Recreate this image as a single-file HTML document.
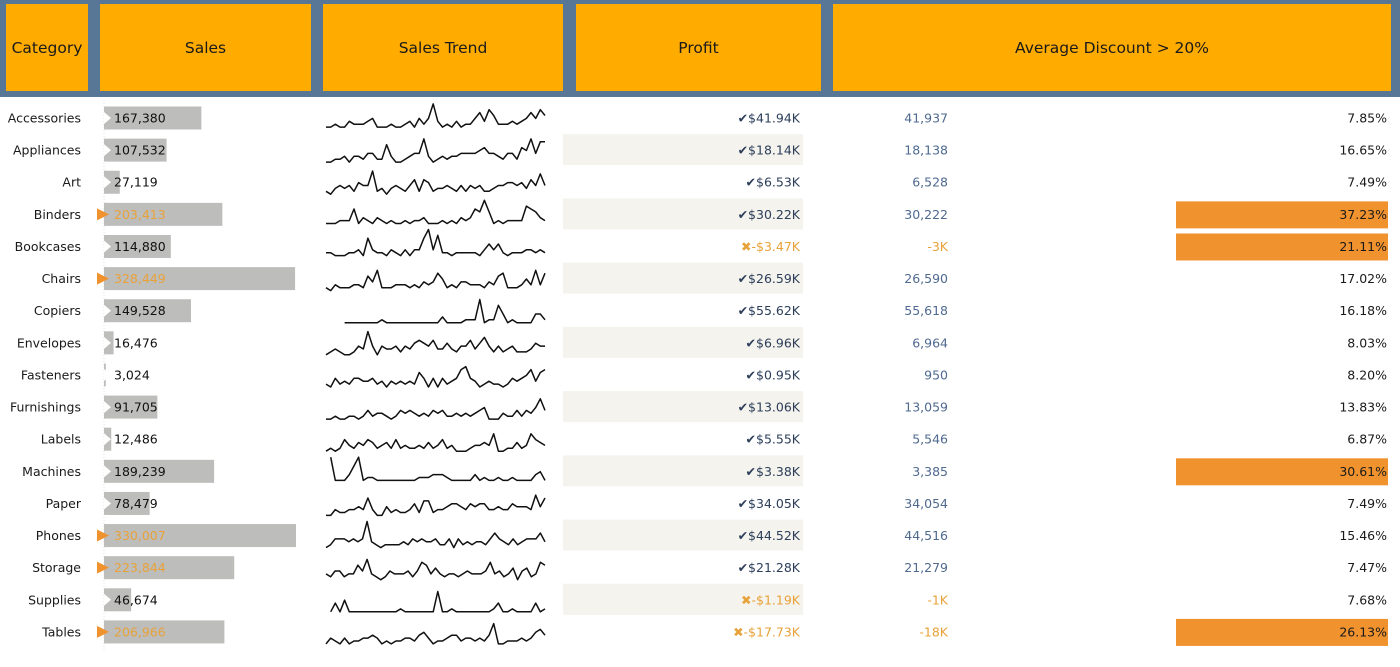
<!DOCTYPE html>
<html><head><meta charset="utf-8">
<style>
body{margin:0;width:1400px;height:667px;background:#fff;font-family:"DejaVu Sans","Liberation Sans",sans-serif;overflow:hidden;position:relative}
.hdrbg{position:absolute;left:0;top:0;width:1400px;height:97px;background:#587796}
.hdr{position:absolute;top:4px;height:87px;background:#ffab00;display:flex;align-items:center;justify-content:center;font-size:15.5px;color:#1a1a1a}
</style></head><body>
<div class="hdrbg"></div>
<div class="hdr" style="left:6px;width:82px">Category</div>
<div class="hdr" style="left:100px;width:211px">Sales</div>
<div class="hdr" style="left:323px;width:240px">Sales Trend</div>
<div class="hdr" style="left:576px;width:245px">Profit</div>
<div class="hdr" style="left:833px;width:558px">Average Discount &gt; 20%</div>
<svg id="chart" width="1400" height="667" style="position:absolute;left:0;top:0"></svg>
<script>
const categories=["Accessories","Appliances","Art","Binders","Bookcases","Chairs","Copiers","Envelopes","Fasteners","Furnishings","Labels","Machines","Paper","Phones","Storage","Supplies","Tables"];
const sales=[167380,107532,27119,203413,114880,328449,149528,16476,3024,91705,12486,189239,78479,330007,223844,46674,206966];
const profitLabels=["$41.94K","$18.14K","$6.53K","$30.22K","-$3.47K","$26.59K","$55.62K","$6.96K","$0.95K","$13.06K","$5.55K","$3.38K","$34.05K","$44.52K","$21.28K","-$1.19K","-$17.73K"];
const profit=[41937,18138,6528,30222,-3,26590,55618,6964,950,13059,5546,3385,34054,44516,21279,-1,-18];
const profitShort=["41,937","18,138","6,528","30,222","-3K","26,590","55,618","6,964","950","13,059","5,546","3,385","34,054","44,516","21,279","-1K","-18K"];
const discount=[7.85,16.65,7.49,37.23,21.11,17.02,16.18,8.03,8.20,13.83,6.87,30.61,7.49,15.46,7.47,7.68,26.13];
const trends=[
[1,1,2,1,1,3,2,2,2,3,4,1,1,1,2,1,1,2,3,1,4,2,4,9,3,1,2,1,3,1,2,2,4,6,3,7,5,2,2,2,3,2,3,4,6,4,7,5],
[0,0,1,1,2,0,2,2,1,3,3,1,1,6,2,0,0,1,2,3,3,8,2,0,1,2,1,2,2,3,3,3,3,4,5,3,3,2,1,3,3,1,5,4,8,3,7,7],
[1,0,2,3,2,3,1,4,3,3,8,1,2,0,2,3,2,1,3,5,1,5,4,1,2,2,3,2,1,3,1,3,2,3,1,1,2,3,3,4,4,3,4,2,5,3,7,3],
[1,1,1,2,2,2,6,1,3,2,1,3,2,1,2,1,1,2,1,2,2,3,1,1,1,2,1,2,1,3,2,3,6,5,9,5,1,2,1,2,2,2,2,7,6,5,3,2],
[2,2,1,1,1,2,2,3,1,7,3,2,2,1,3,2,1,3,1,3,3,7,10,3,8,2,2,1,2,2,2,2,2,1,3,5,3,5,2,1,2,2,2,3,3,2,3,2],
[1,0,2,1,1,1,2,2,1,5,3,7,1,1,1,2,2,2,1,2,1,3,2,3,6,4,1,2,1,3,3,2,2,2,1,3,2,5,6,1,1,1,2,4,2,7,2,6],
[null,null,null,null,0,0,0,0,0,0,0,0,1,0,0,0,0,0,0,0,0,0,0,0,0,2,0,0,0,0,1,1,1,8,0,1,1,6,3,0,1,0,0,0,0,3,3,1],
[0,1,2,1,0,0,1,3,2,8,3,0,3,2,2,3,1,3,2,4,5,4,3,5,2,2,4,2,1,3,3,5,2,4,6,3,1,3,1,2,3,1,1,1,2,4,3,3],
[1,0,3,1,2,1,3,3,2,2,3,1,2,0,2,1,2,1,2,1,5,3,0,3,0,3,1,2,3,6,7,3,2,0,1,2,1,1,0,1,3,2,3,4,6,2,5,6],
[0,0,1,0,0,1,1,0,1,3,1,2,2,1,0,1,3,2,3,2,1,2,1,3,2,3,1,1,2,1,2,1,2,3,4,0,0,0,2,1,1,3,1,3,2,4,7,3],
[0,1,0,1,4,2,1,3,2,4,3,1,2,3,1,4,1,2,1,1,2,1,3,1,2,4,1,2,0,0,0,1,2,2,3,2,6,0,0,1,1,3,1,2,6,4,3,2],
[null,9,1,1,1,3,6,9,1,2,2,1,1,1,1,1,1,1,1,1,2,2,2,3,3,3,2,1,1,1,1,1,3,1,2,1,1,2,1,1,2,1,1,1,1,3,4,1],
[0,0,2,1,1,2,2,3,2,6,2,0,0,3,1,2,1,1,2,4,1,5,5,1,2,2,3,4,4,3,2,4,3,4,4,2,2,3,2,2,4,3,3,3,2,7,3,6],
[0,1,3,3,3,2,3,2,3,9,2,1,0,1,1,1,1,2,1,3,2,3,2,2,3,1,1,3,0,3,1,2,1,2,2,1,3,5,3,2,1,3,1,2,3,3,3,5,2],
[2,1,3,3,1,2,2,5,3,7,2,1,0,1,3,2,2,2,3,1,3,6,5,2,4,2,1,2,2,1,2,3,2,2,2,3,6,2,3,1,2,4,0,3,4,1,2,6,5],
[null,0,3,0,4,0,0,0,0,0,0,0,0,0,0,0,1,0,0,0,0,0,0,0,7,0,0,1,0,0,0,0,0,0,0,0,1,3,0,0,1,0,0,0,0,3,0,1],
[0,2,1,0,2,0,1,1,2,2,3,2,0,1,0,1,1,2,2,1,3,4,2,0,1,1,2,3,3,1,2,2,1,2,1,3,7,0,0,1,1,1,2,1,2,4,5,3]
];
const svg=document.getElementById('chart');
const NS='http://www.w3.org/2000/svg';
const rowY=i=>118+i*32.12;
const xSales=v=>104+v/330007*192;
const sparkX=(j,n)=>326+j*(545-326)/(n-1);
function mk(tag,attrs,parent){const e=document.createElementNS(NS,tag);for(const k in attrs)e.setAttribute(k,attrs[k]);(parent||svg).appendChild(e);return e;}
function txt(x,y,s,anchor,color,size){const e=mk('text',{x:x,y:y,'text-anchor':anchor,fill:color,'font-size':size||12.5,'font-family':'DejaVu Sans, Liberation Sans, sans-serif'});e.textContent=s;return e;}
const ax=mk('line',{x1:104,y1:100,x2:104,y2:650,stroke:'#ddd','stroke-dasharray':'1,2'});


categories.forEach((c,i)=>{
  const cy=rowY(i);
  if(i%2===1){
    const band=mk('rect',{x:563,y:cy-16,width:240,height:31,fill:'#f5f3ed'});
    
    
  }
  const lab=txt(81,cy+4.5,c,'end','#1a1a1a');
  
  
  const hi=sales[i]>200000;
  const bar=mk('rect',{x:104,y:cy-11.5,width:xSales(sales[i])-104,height:23,fill:'#bdbdbb'});
  
  
  const tri=mk('polygon',{points:`${hi?97:104},${cy-6} ${hi?109:111},${cy} ${hi?97:104},${cy+6}`,fill:hi?'#f0922e':'#fff'});
  
  
  const sv=txt(114,cy+4.5,sales[i].toLocaleString('en-US'),'start',hi?'#e8a23a':'#111');
  
  
  const d=trends[i];const n=d.length;let p='';let started=false;
  d.forEach((v,j)=>{if(v===null)return;const x=sparkX(j,n);const y=cy+12-v*2.9;p+=(started?'L':'M')+x.toFixed(1)+','+y.toFixed(1);started=true;});
  const line=mk('path',{d:p,fill:'none',stroke:'#111','stroke-width':1.5,'stroke-linejoin':'round'});
  
  
  const neg=profit[i]<0;
  const pl=txt(800,cy+4.5,(neg?'✖':'✔')+profitLabels[i],'end',neg?'#e8a23a':'#2c3e5a');
  
  
  const ps=txt(948,cy+4.5,profitShort[i],'end',neg?'#e8a23a':'#4f6a8f');
  
  
  if(discount[i]>20){
    const db=mk('rect',{x:1176,y:cy-13,width:212,height:27,fill:'#f0922e'});
    
    
  }
  const dt=txt(1387,cy+4.5,discount[i].toFixed(2)+'%','end','#1a1a1a');
  
  
});
</script>
</body></html>
